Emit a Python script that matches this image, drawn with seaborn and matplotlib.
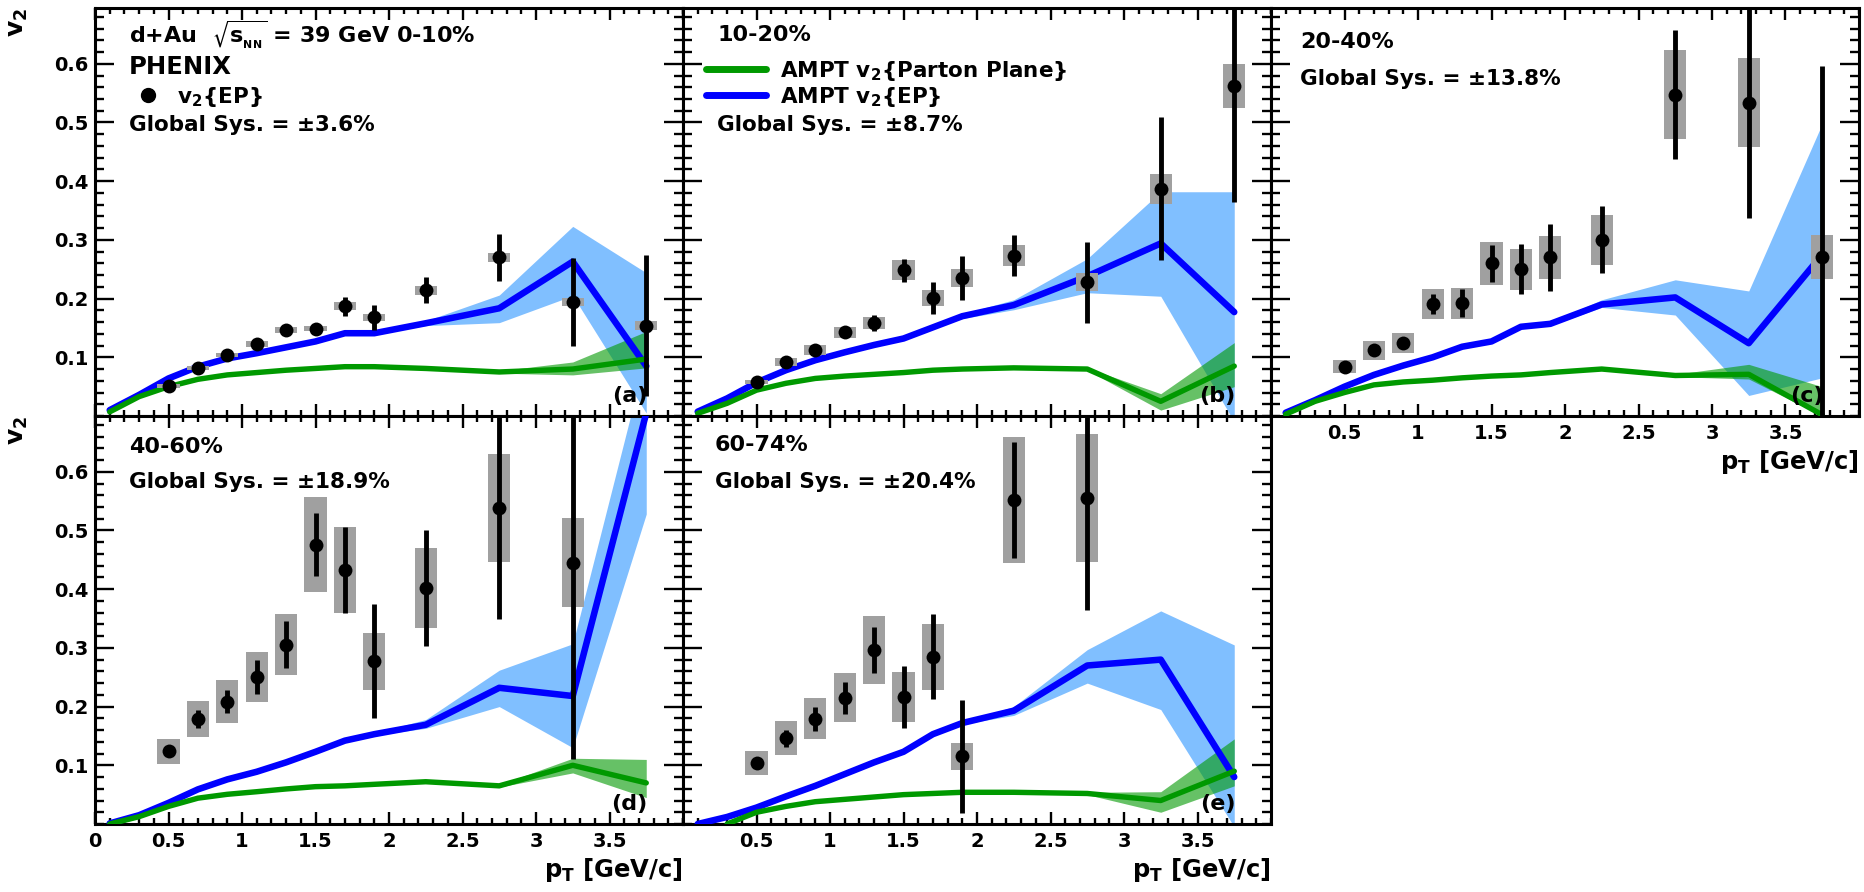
import numpy as np
import matplotlib
matplotlib.use("Agg")
import matplotlib.pyplot as plt
import seaborn as sns
from matplotlib.ticker import MultipleLocator, FixedLocator
from matplotlib.lines import Line2D

nan = np.nan

# ---------------- data ----------------
pt = [0.5, 0.7, 0.9, 1.1, 1.3, 1.5, 1.7, 1.9, 2.25, 2.75, 3.25, 3.75]
ampt_pt = [0.1, 0.3, 0.5, 0.7, 0.9, 1.1, 1.3, 1.5, 1.7, 1.9, 2.25, 2.75, 3.25, 3.75]

# (a) 0-10%
a_v2 = [0.051, 0.082, 0.104, 0.122, 0.147, 0.149, 0.187, 0.168, 0.214, 0.270, 0.194, 0.154]
a_stat = [0.002, 0.003, 0.004, 0.005, 0.005, 0.006, 0.016, 0.021, 0.022, 0.040, 0.075, 0.120]
a_sys = [0.004, 0.004, 0.004, 0.005, 0.005, 0.005, 0.0065, 0.006, 0.0077, 0.0077, 0.007, 0.007]
a_blue = [0.010, 0.036, 0.064, 0.084, 0.098, 0.107, 0.117, 0.127, 0.141, 0.141, 0.158, 0.1835, 0.263, 0.085]
a_blue_lo = [0.008, 0.034, 0.062, 0.082, 0.096, 0.105, 0.115, 0.125, 0.139, 0.139, 0.154, 0.159, 0.205, 0.005]
a_blue_hi = [0.012, 0.038, 0.066, 0.086, 0.100, 0.109, 0.119, 0.129, 0.143, 0.143, 0.162, 0.206, 0.323, 0.244]
a_green = [0.007, 0.033, 0.050, 0.0625, 0.070, 0.074, 0.078, 0.081, 0.084, 0.084, 0.081, 0.075, 0.080, 0.097]
a_green_lo = [0.006, 0.031, 0.048, 0.061, 0.068, 0.072, 0.076, 0.079, 0.082, 0.082, 0.079, 0.073, 0.070, 0.082]
a_green_hi = [0.008, 0.035, 0.052, 0.064, 0.072, 0.076, 0.080, 0.083, 0.086, 0.086, 0.083, 0.077, 0.092, 0.144]

# (b) 10-20%
b_v2 = [0.0585, 0.0915, 0.1125, 0.1426, 0.158, 0.248, 0.2006, 0.2347, 0.2727, 0.228, 0.387, 0.562]
b_stat = [0.003, 0.004, 0.005, 0.006, 0.014, 0.020, 0.027, 0.037, 0.035, 0.069, 0.122, 0.198]
b_sys = [0.0035, 0.0065, 0.008, 0.0095, 0.010, 0.017, 0.0136, 0.0156, 0.018, 0.0156, 0.026, 0.038]
b_blue = [0.0074, 0.030, 0.057, 0.078, 0.095, 0.1085, 0.121, 0.132, 0.151, 0.170, 0.189, 0.238, 0.294, 0.177]
b_blue_lo = [0.006, 0.028, 0.055, 0.076, 0.093, 0.106, 0.119, 0.130, 0.149, 0.166, 0.181, 0.210, 0.204, -0.010]
b_blue_hi = [0.009, 0.032, 0.059, 0.080, 0.097, 0.111, 0.123, 0.134, 0.153, 0.174, 0.198, 0.268, 0.382, 0.382]
b_green = [0.0045, 0.0216, 0.044, 0.0557, 0.064, 0.068, 0.071, 0.074, 0.078, 0.080, 0.082, 0.080, 0.025, 0.085]
b_green_lo = [0.003, 0.020, 0.042, 0.054, 0.062, 0.066, 0.069, 0.072, 0.076, 0.078, 0.080, 0.078, 0.010, 0.050]
b_green_hi = [0.006, 0.023, 0.046, 0.057, 0.066, 0.070, 0.073, 0.076, 0.080, 0.082, 0.084, 0.082, 0.038, 0.125]

# (c) 20-40%
c_v2 = [0.0843, 0.112, 0.125, 0.191, 0.192, 0.260, 0.250, 0.270, 0.300, 0.547, 0.534, 0.271]
c_stat = [0.004, 0.006, 0.008, 0.017, 0.024, 0.032, 0.043, 0.057, 0.057, 0.110, 0.197, 0.325]
c_sys = [0.0115, 0.016, 0.017, 0.026, 0.026, 0.036, 0.035, 0.037, 0.042, 0.076, 0.075, 0.037]
c_blue = [0.0056, 0.027, 0.050, 0.070, 0.086, 0.100, 0.118, 0.127, 0.152, 0.157, 0.190, 0.202, 0.124, 0.275]
c_blue_lo = [0.004, 0.025, 0.048, 0.068, 0.084, 0.098, 0.116, 0.125, 0.150, 0.154, 0.185, 0.172, 0.035, 0.065]
c_blue_hi = [0.007, 0.029, 0.052, 0.072, 0.088, 0.102, 0.120, 0.129, 0.154, 0.160, 0.198, 0.232, 0.213, 0.498]
c_green = [0.003, 0.025, 0.040, 0.053, 0.058, 0.061, 0.065, 0.068, 0.070, 0.074, 0.080, 0.069, 0.071, 0.002]
c_green_lo = [0.002, 0.023, 0.038, 0.051, 0.056, 0.059, 0.063, 0.066, 0.068, 0.072, 0.078, 0.067, 0.063, 0.000]
c_green_hi = [0.004, 0.027, 0.042, 0.055, 0.060, 0.063, 0.067, 0.070, 0.072, 0.076, 0.082, 0.071, 0.088, 0.050]

# (d) 40-60%
d_v2 = [0.124, 0.179, 0.2085, 0.250, 0.305, 0.476, 0.433, 0.277, 0.402, 0.539, 0.445, nan]
d_stat = [0.006, 0.015, 0.020, 0.029, 0.040, 0.054, 0.073, 0.097, 0.098, 0.190, 0.335, nan]
d_sys = [0.021, 0.031, 0.036, 0.043, 0.052, 0.081, 0.073, 0.048, 0.068, 0.092, 0.076, nan]
d_blue = [0.001, 0.015, 0.036, 0.059, 0.076, 0.089, 0.105, 0.123, 0.142, 0.153, 0.169, 0.232, 0.218, 0.700]
d_blue_lo = [0.000, 0.013, 0.034, 0.057, 0.074, 0.087, 0.103, 0.121, 0.140, 0.151, 0.163, 0.200, 0.130, 0.528]
d_blue_hi = [0.002, 0.017, 0.038, 0.061, 0.078, 0.091, 0.107, 0.125, 0.144, 0.155, 0.178, 0.262, 0.307, 0.800]
d_green = [0.000, 0.0125, 0.030, 0.044, 0.0506, 0.055, 0.0597, 0.0636, 0.065, 0.0676, 0.072, 0.065, 0.100, 0.070]
d_green_lo = [0.000, 0.011, 0.028, 0.042, 0.049, 0.053, 0.058, 0.062, 0.063, 0.066, 0.070, 0.063, 0.087, 0.045]
d_green_hi = [0.001, 0.014, 0.032, 0.046, 0.052, 0.057, 0.061, 0.065, 0.067, 0.069, 0.074, 0.067, 0.112, 0.110]

# (e) 60-74%
e_v2 = [0.104, 0.146, 0.179, 0.215, 0.296, 0.216, 0.285, 0.115, 0.552, 0.555, nan, nan]
e_stat = [0.005, 0.014, 0.020, 0.027, 0.039, 0.053, 0.072, 0.097, 0.099, 0.190, nan, nan]
e_sys = [0.021, 0.029, 0.035, 0.042, 0.058, 0.043, 0.056, 0.023, 0.108, 0.109, nan, nan]
e_blue = [0.000, 0.012, 0.028, 0.047, 0.065, 0.085, 0.105, 0.123, 0.153, 0.172, 0.193, 0.270, 0.280, 0.080]
e_blue_lo = [0.000, 0.010, 0.026, 0.045, 0.063, 0.083, 0.103, 0.121, 0.151, 0.170, 0.185, 0.240, 0.195, -0.005]
e_blue_hi = [0.001, 0.014, 0.030, 0.049, 0.067, 0.087, 0.107, 0.125, 0.155, 0.174, 0.200, 0.297, 0.363, 0.305]
e_green = [nan, 0.000, 0.020, 0.030, 0.038, 0.042, 0.046, 0.050, 0.052, 0.054, 0.054, 0.052, 0.040, 0.090]
e_green_lo = [nan, 0.000, 0.018, 0.028, 0.036, 0.040, 0.044, 0.048, 0.050, 0.052, 0.052, 0.050, 0.020, 0.065]
e_green_hi = [nan, 0.001, 0.022, 0.032, 0.040, 0.044, 0.048, 0.052, 0.054, 0.056, 0.056, 0.054, 0.055, 0.145]

centralities = ["0-10%", "10-20%", "20-40%", "40-60%", "60-74%"]
global_sys = ["\u00b13.6%", "\u00b18.7%", "\u00b113.8%", "\u00b118.9%", "\u00b120.4%"]
panel_tags = ["(a)", "(b)", "(c)", "(d)", "(e)"]
ytick_vals = [0.1, 0.2, 0.3, 0.4, 0.5, 0.6]
ytick_labels = ["0.1", "0.2", "0.3", "0.4", "0.5", "0.6"]
xtick_vals = [0, 0.5, 1, 1.5, 2, 2.5, 3, 3.5]
xtick_labels = ["0", "0.5", "1", "1.5", "2", "2.5", "3", "3.5"]

# ---------------- style ----------------
sns.set_style("ticks")
plt.rcParams["font.family"] = ["DejaVu Sans"]
plt.rcParams["font.weight"] = "bold"
plt.rcParams["axes.labelweight"] = "bold"
plt.rcParams["mathtext.fontset"] = "dejavusans"
plt.rcParams["mathtext.default"] = "bf"
plt.rcParams["text.color"] = "black"
plt.rcParams["axes.labelcolor"] = "black"
plt.rcParams["xtick.color"] = "black"
plt.rcParams["ytick.color"] = "black"
plt.rcParams["axes.edgecolor"] = "black"

BLUE = "#0000ff"
BLUE_BAND = "#80bfff"
GREEN = "#009900"
GREY = "#a0a0a0"

W, H = 1864, 892
fig = plt.figure(figsize=(W / 100, H / 100), dpi=100)


def rect(l, t, w=588, h=408):
    return [l / W, (H - t - h) / H, w / W, h / H]


panels = [
    dict(pos=(95, 8), v2=a_v2, stat=a_stat, sys=a_sys, blue=a_blue, blo=a_blue_lo, bhi=a_blue_hi,
         green=a_green, glo=a_green_lo, ghi=a_green_hi, xlab="none", ylab=True, tx=0.058, ty=(0.934, 0.713)),
    dict(pos=(683, 8), v2=b_v2, stat=b_stat, sys=b_sys, blue=b_blue, blo=b_blue_lo, bhi=b_blue_hi,
         green=b_green, glo=b_green_lo, ghi=b_green_hi, xlab="none", ylab=False, tx=0.058, ty=(0.934, 0.713)),
    dict(pos=(1271, 8), v2=c_v2, stat=c_stat, sys=c_sys, blue=c_blue, blo=c_blue_lo, bhi=c_blue_hi,
         green=c_green, glo=c_green_lo, ghi=c_green_hi, xlab="no0", ylab=False, tx=0.049, ty=(0.917, 0.826)),
    dict(pos=(95, 416), v2=d_v2, stat=d_stat, sys=d_sys, blue=d_blue, blo=d_blue_lo, bhi=d_blue_hi,
         green=d_green, glo=d_green_lo, ghi=d_green_hi, xlab="all", ylab=True, tx=0.058, ty=(0.924, 0.838)),
    dict(pos=(683, 416), v2=e_v2, stat=e_stat, sys=e_sys, blue=e_blue, blo=e_blue_lo, bhi=e_blue_hi,
         green=e_green, glo=e_green_lo, ghi=e_green_hi, xlab="no0", ylab=False, tx=0.054, ty=(0.929, 0.838)),
]

for i, p in enumerate(panels):
    ax = fig.add_axes(rect(*p["pos"]))
    v2 = np.array(p["v2"], dtype=float)
    sysv = np.array(p["sys"], dtype=float)

    ax.fill_between(ampt_pt, p["blo"], p["bhi"], color=BLUE_BAND, lw=0, zorder=1)
    ax.fill_between(ampt_pt, p["glo"], p["ghi"], color=GREEN, alpha=0.6, lw=0, zorder=2)
    sns.lineplot(x=ampt_pt, y=p["blue"], color=BLUE, lw=4.7, ax=ax, estimator=None,
                 sort=False, legend=False, zorder=3)
    sns.lineplot(x=ampt_pt, y=p["green"], color=GREEN, lw=3.9, ax=ax, estimator=None,
                 sort=False, legend=False, zorder=3)
    ax.bar(pt, 2 * sysv, bottom=v2 - sysv, width=0.15, color=GREY, lw=0, zorder=4)
    ax.errorbar(pt, v2, yerr=p["stat"], fmt="none", ecolor="black", elinewidth=3.5,
                capsize=0, zorder=5)
    sns.scatterplot(x=pt, y=p["v2"], color="black", s=100, linewidth=0, ax=ax,
                    legend=False, zorder=6)

    ax.set_xlim(0, 4)
    ax.set_ylim(0, 0.695)
    ax.set_xlabel("")
    ax.set_ylabel("")

    if p["xlab"] == "no0":
        ax.xaxis.set_major_locator(FixedLocator(xtick_vals[1:]))
        ax.set_xticklabels(xtick_labels[1:])
    else:
        ax.xaxis.set_major_locator(FixedLocator(xtick_vals))
        ax.set_xticklabels(xtick_labels)
    ax.xaxis.set_minor_locator(MultipleLocator(0.1))
    ax.yaxis.set_major_locator(FixedLocator(ytick_vals))
    ax.set_yticklabels(ytick_labels)
    ax.yaxis.set_minor_locator(MultipleLocator(0.02))
    ax.tick_params(axis="both", which="both", direction="in", top=True, right=True,
                   width=1.7, colors="black", labelsize=14)
    ax.tick_params(axis="y", which="major", length=13.5, pad=5)
    ax.tick_params(axis="y", which="minor", length=6.5)
    ax.tick_params(axis="x", which="major", length=8.6, pad=6)
    ax.tick_params(axis="x", which="minor", length=4.3)
    if p["xlab"] == "none":
        ax.tick_params(axis="x", labelbottom=False)
    if not p["ylab"]:
        ax.tick_params(axis="y", labelleft=False)
    for s in ax.spines.values():
        s.set_linewidth(2.2)
        s.set_color("black")
        s.set_visible(True)

    if p["xlab"] != "none":
        ax.set_xlabel("p$_T$ [GeV/c]", loc="right", fontsize=17.5, labelpad=3)
    if p["ylab"]:
        ax.set_ylabel("v$_2$", loc="top", fontsize=18)
        ax.yaxis.set_label_coords(-0.11, 1.0)

    if i == 0:
        ax.text(p["tx"], p["ty"][0], r"d+Au  $\sqrt{s_{_{NN}}}$ = 39 GeV 0-10%",
                transform=ax.transAxes, fontsize=16, ha="left", va="center")
        ax.text(p["tx"], 0.856, "PHENIX", transform=ax.transAxes, fontsize=17.5,
                ha="left", va="center")
        h = Line2D([], [], marker="o", ls="none", color="black", markersize=10)
        ax.legend([h], ["v$_2${EP}"], loc="center left", bbox_to_anchor=(0.072, 0.782),
                  frameon=False, fontsize=15.5, handlelength=1.0, handletextpad=0.85,
                  borderpad=0, borderaxespad=0)
    else:
        ax.text(p["tx"], p["ty"][0], centralities[i], transform=ax.transAxes,
                fontsize=16, ha="left", va="center")
    if i == 1:
        hg = Line2D([], [], color=GREEN, lw=5)
        hb = Line2D([], [], color=BLUE, lw=5)
        leg1 = ax.legend([hg], ["AMPT v$_2${Parton Plane}"], loc="center left",
                         bbox_to_anchor=(0.039, 0.846), frameon=False, fontsize=15.5,
                         handlelength=2.8, handletextpad=0.65, borderpad=0, borderaxespad=0)
        ax.add_artist(leg1)
        ax.legend([hb], ["AMPT v$_2${EP}"], loc="center left",
                  bbox_to_anchor=(0.039, 0.782), frameon=False, fontsize=15.5,
                  handlelength=2.8, handletextpad=0.65, borderpad=0, borderaxespad=0)
    ax.text(p["tx"], p["ty"][1], "Global Sys. = " + global_sys[i], transform=ax.transAxes,
            fontsize=15.5, ha="left", va="center")
    ax.text(0.94, 0.05, panel_tags[i], transform=ax.transAxes, fontsize=16,
            ha="right", va="center", zorder=7)

fig.savefig("out.png", dpi=100, facecolor="white")
